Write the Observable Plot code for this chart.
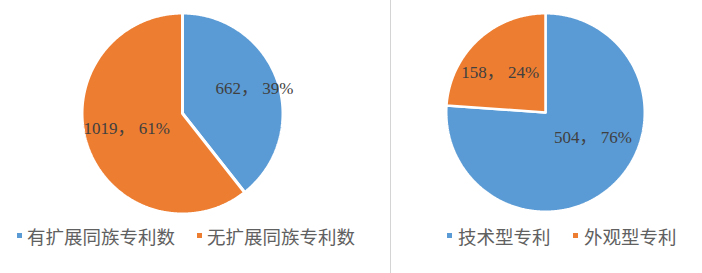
<!DOCTYPE html>
<html>
<head>
<meta charset="utf-8">
<script src="https://cdn.jsdelivr.net/npm/d3@7"></script>
<script src="https://cdn.jsdelivr.net/npm/@observablehq/plot@0.6"></script>
<style>
  body { margin: 0; background: #fff; }
  #chart { position: relative; width: 702px; height: 273px; overflow: hidden; background: #fff;
           font-family: "Noto Sans CJK SC", "Noto Sans", sans-serif; }
  .panel { position: absolute; top: 0; }
  .divider { position: absolute; left: 390px; top: 0; width: 1px; height: 273px; background: #d4d4d4; }
  .legend-item { position: absolute; top: 226px; height: 21px; line-height: 21px; font-size: 18.5px;
                 color: #606060; white-space: nowrap; }
  .legend-swatch { position: absolute; width: 5px; height: 5px; top: 233px; }
</style>
</head>
<body>
<div id="chart"></div>
<script>
// Patent family breakdown
const familyCategories = ["有扩展同族专利数", "无扩展同族专利数"];
const familyValues = [662, 1019];

// Patent type breakdown
const typeCategories = ["技术型专利", "外观型专利"];
const typeValues = [504, 158];

const sliceColors = ["#5B9BD5", "#ED7D31"];

const chart = document.getElementById("chart");

// Builds one pie: slices are polygons traced on a unit circle and placed with Plot's x/y scales.
function pieChart({ categories, values, width, height, cx, cy, r, gap, labelPlace }) {
  const total = d3.sum(values);
  const arcs = d3.pie().sort(null).value(d => d)(values);
  const rr = r + gap / 2; // stroke eats half the gap on the rim

  const slices = arcs.map((a) => {
    const pts = [{ x: 0, y: 0 }];
    const n = Math.max(2, Math.ceil((a.endAngle - a.startAngle) / (Math.PI / 360)));
    for (let j = 0; j <= n; j++) {
      const t = a.startAngle + (a.endAngle - a.startAngle) * j / n;
      pts.push({ x: Math.sin(t), y: Math.cos(t) });
    }
    pts.push({ x: 0, y: 0 });
    return pts;
  });

  const labels = arcs.map((a, i) => {
    const mid = (a.startAngle + a.endAngle) / 2 + labelPlace[i].shift * Math.PI / 180;
    const k = labelPlace[i].k * r / rr;
    return {
      x: k * Math.sin(mid),
      y: k * Math.cos(mid),
      text: `${values[i]}， ${Math.round(values[i] / total * 100)}%`
    };
  });

  return Plot.plot({
    width, height,
    margin: 0,
    style: { background: "transparent", overflow: "visible" },
    x: { domain: [-1, 1], range: [cx - rr, cx + rr], axis: null },
    y: { domain: [-1, 1], range: [cy + rr, cy - rr], axis: null },
    marks: [
      ...slices.map((pts, i) => Plot.line(pts, {
        x: "x", y: "y", fill: sliceColors[i], stroke: "#fff",
        strokeWidth: gap, strokeLinejoin: "miter", curve: "linear"
      })),
      Plot.text(labels, {
        x: "x", y: "y", text: "text", fill: "#404040",
        fontSize: 17, fontFamily: "'Liberation Serif', 'Noto Sans CJK SC', serif"
      })
    ]
  });
}

function addPanel(svg, left) {
  svg.classList.add("panel");
  svg.style.left = left + "px";
  chart.appendChild(svg);
}

addPanel(pieChart({
  categories: familyCategories, values: familyValues,
  width: 390, height: 222, cx: 182, cy: 113, r: 99, gap: 3,
  labelPlace: [{ k: 0.77, shift: 0 }, { k: 0.583, shift: 4 }]
}), 0);

addPanel(pieChart({
  categories: typeCategories, values: typeValues,
  width: 311, height: 222, cx: 154, cy: 112, r: 98, gap: 2.5,
  labelPlace: [{ k: 0.546, shift: -19.3 }, { k: 0.62, shift: -5.3 }]
}), 391);

const divider = document.createElement("div");
divider.className = "divider";
chart.appendChild(divider);

// Legends under each pie
function addLegend(categories, swatchLefts, textLefts) {
  categories.forEach((c, i) => {
    const sw = document.createElement("div");
    sw.className = "legend-swatch";
    sw.style.left = swatchLefts[i] + "px";
    sw.style.background = sliceColors[i];
    chart.appendChild(sw);
    const t = document.createElement("div");
    t.className = "legend-item";
    t.style.left = textLefts[i] + "px";
    t.textContent = c;
    chart.appendChild(t);
  });
}
addLegend(familyCategories, [17, 197], [27, 207]);
addLegend(typeCategories, [447, 573], [458, 584]);
</script>
</body>
</html>
